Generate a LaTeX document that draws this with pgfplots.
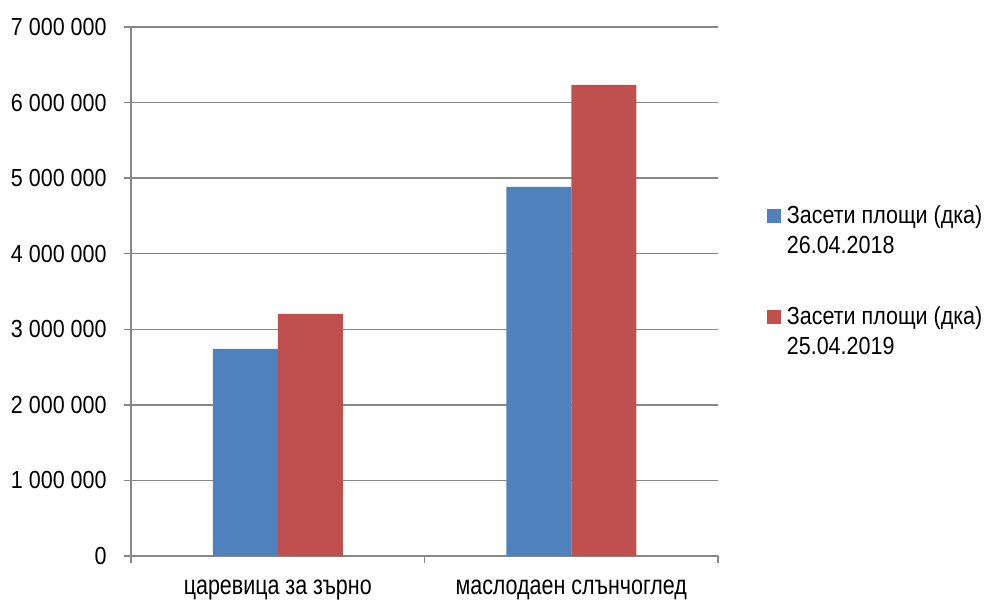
\documentclass[border=0pt]{standalone}
\usepackage{pgfplots}
\pgfplotsset{compat=1.18}
\usepackage{fontspec}
\setmainfont{Liberation Sans}[FakeStretch=0.87]
\newfontfamily\catfont{Liberation Sans}[FakeStretch=0.795]

\definecolor{barblue}{HTML}{4F81BD}
\definecolor{barred}{HTML}{C0504D}
\definecolor{gridgray}{HTML}{878787}

\begin{document}
\begin{tikzpicture}
\begin{axis}[
    at={(65.5pt,22pt)}, anchor=south west,
    scale only axis,
    width=293.5pt, height=264.5pt,
    font=\fontsize{12.35}{15}\selectfont,
    xmin=0.5, xmax=2.5,
    ymin=0, ymax=7000000,
    axis lines*=left,
    axis line style={gridgray, line width=0.75pt},
    ymajorgrids,
    grid style={gridgray, line width=0.75pt},
    tick align=outside,
    major tick length=3.5pt,
    tick style={gridgray, line width=0.75pt},
    ytick={0,1000000,2000000,3000000,4000000,5000000,6000000,7000000},
    yticklabels={0,1 000 000,2 000 000,3 000 000,4 000 000,5 000 000,6 000 000,7 000 000},
    scaled y ticks=false,
    yticklabel style={anchor=east, inner sep=0pt, xshift=-8.5pt},
    xtick={1,2},
    xticklabels={царевица за зърно, маслодаен слънчоглед},
    major x tick style={draw=none},
    xticklabel style={anchor=base, inner sep=0pt, yshift=-15.5pt,
        font=\catfont\fontsize{13.5}{16}\selectfont},
    extra x ticks={0.5,1.5,2.5},
    extra x tick labels={,,},
    extra x tick style={major x tick style={draw=gridgray}, xmajorgrids=false},
    ybar=0pt,
    bar width=32.5pt,
    legend style={at={(1.0835,0.6635)}, anchor=north west, draw=none,
        fill=none, inner sep=0pt, row sep=25pt,
        nodes={inner sep=0pt}, cells={align=left}},
    legend cell align=left,
    legend image code/.code={\fill[#1] (0pt,4pt) rectangle (6.75pt,10.75pt);},
]
\addplot[fill=barblue, draw=none] coordinates {(1,2740000) (2,4883000)};
\addplot[fill=barred, draw=none] coordinates {(1,3205000) (2,6235000)};
\legend{{\hspace{3pt}Засети площи (дка)\\\hspace{3pt}26.04.2018},
        {\hspace{3pt}Засети площи (дка)\\\hspace{3pt}25.04.2019}}
\end{axis}
\pgfresetboundingbox
\path[use as bounding box] (0,0) rectangle (494pt,300pt);
\end{tikzpicture}
\end{document}
